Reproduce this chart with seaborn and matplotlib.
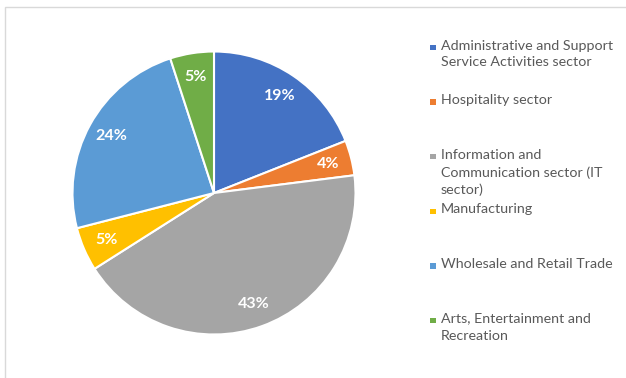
import matplotlib
matplotlib.use("Agg")
import matplotlib.pyplot as plt
from matplotlib.patches import Rectangle
import seaborn as sns

# Share of businesses by sector
sectors = [
    "Administrative and Support\nService Activities sector",
    "Hospitality sector",
    "Information and\nCommunication sector (IT\nsector)",
    "Manufacturing",
    "Wholesale and Retail Trade",
    "Arts, Entertainment and\nRecreation",
]
shares = [19, 4, 43, 5, 24, 5]
colors = ["#4472C4", "#ED7D31", "#A5A5A5", "#FFC000", "#5B9BD5", "#70AD47"]

sns.set_theme(style="white")
plt.rcParams["font.family"] = ["Lato", "DejaVu Sans"]

W, H = 626, 378
fig = plt.figure(figsize=(W / 100, H / 100), dpi=100)
fig.patch.set_facecolor("white")

# chart-area frame (light grey, open on the right and bottom)
fig.patches.append(Rectangle((5 / W, -0.1), 1.2, (H - 7) / H + 0.1,
                             transform=fig.transFigure, fill=False,
                             edgecolor="#D9D9D9", linewidth=1.0, zorder=0))

cx, cy, r = 214, 193, 141.5
ax = fig.add_axes([(cx - r) / W, (H - cy - r) / H, 2 * r / W, 2 * r / H])
wedges, texts, autotexts = ax.pie(
    shares, colors=colors, startangle=90, counterclock=False,
    autopct=lambda p: f"{p:.0f}%", pctdistance=0.83,
    wedgeprops=dict(edgecolor="white", linewidth=1.5),
    textprops=dict(color="white", fontsize=11.5, fontweight="bold"),
)
ax.set_xlim(-1, 1)
ax.set_ylim(-1, 1)
ax.set_aspect("equal")
ax.axis("off")

# legend, one slot per sector
x_mark, x_text = 430, 441
y0, step, sq = 47.5, 54.6, 5.5
for i, (lab, col) in enumerate(zip(sectors, colors)):
    yc = y0 + step * i
    fig.patches.append(Rectangle(((x_mark) / W, (H - yc - sq / 2) / H), sq / W, sq / H,
                                 transform=fig.transFigure, facecolor=col,
                                 edgecolor="none"))
    fig.text(x_text / W, (H - yc + 8) / H, lab, ha="left", va="top",
             fontsize=10.3, color="#595959", linespacing=1.5)

fig.savefig("out.png", dpi=100)
